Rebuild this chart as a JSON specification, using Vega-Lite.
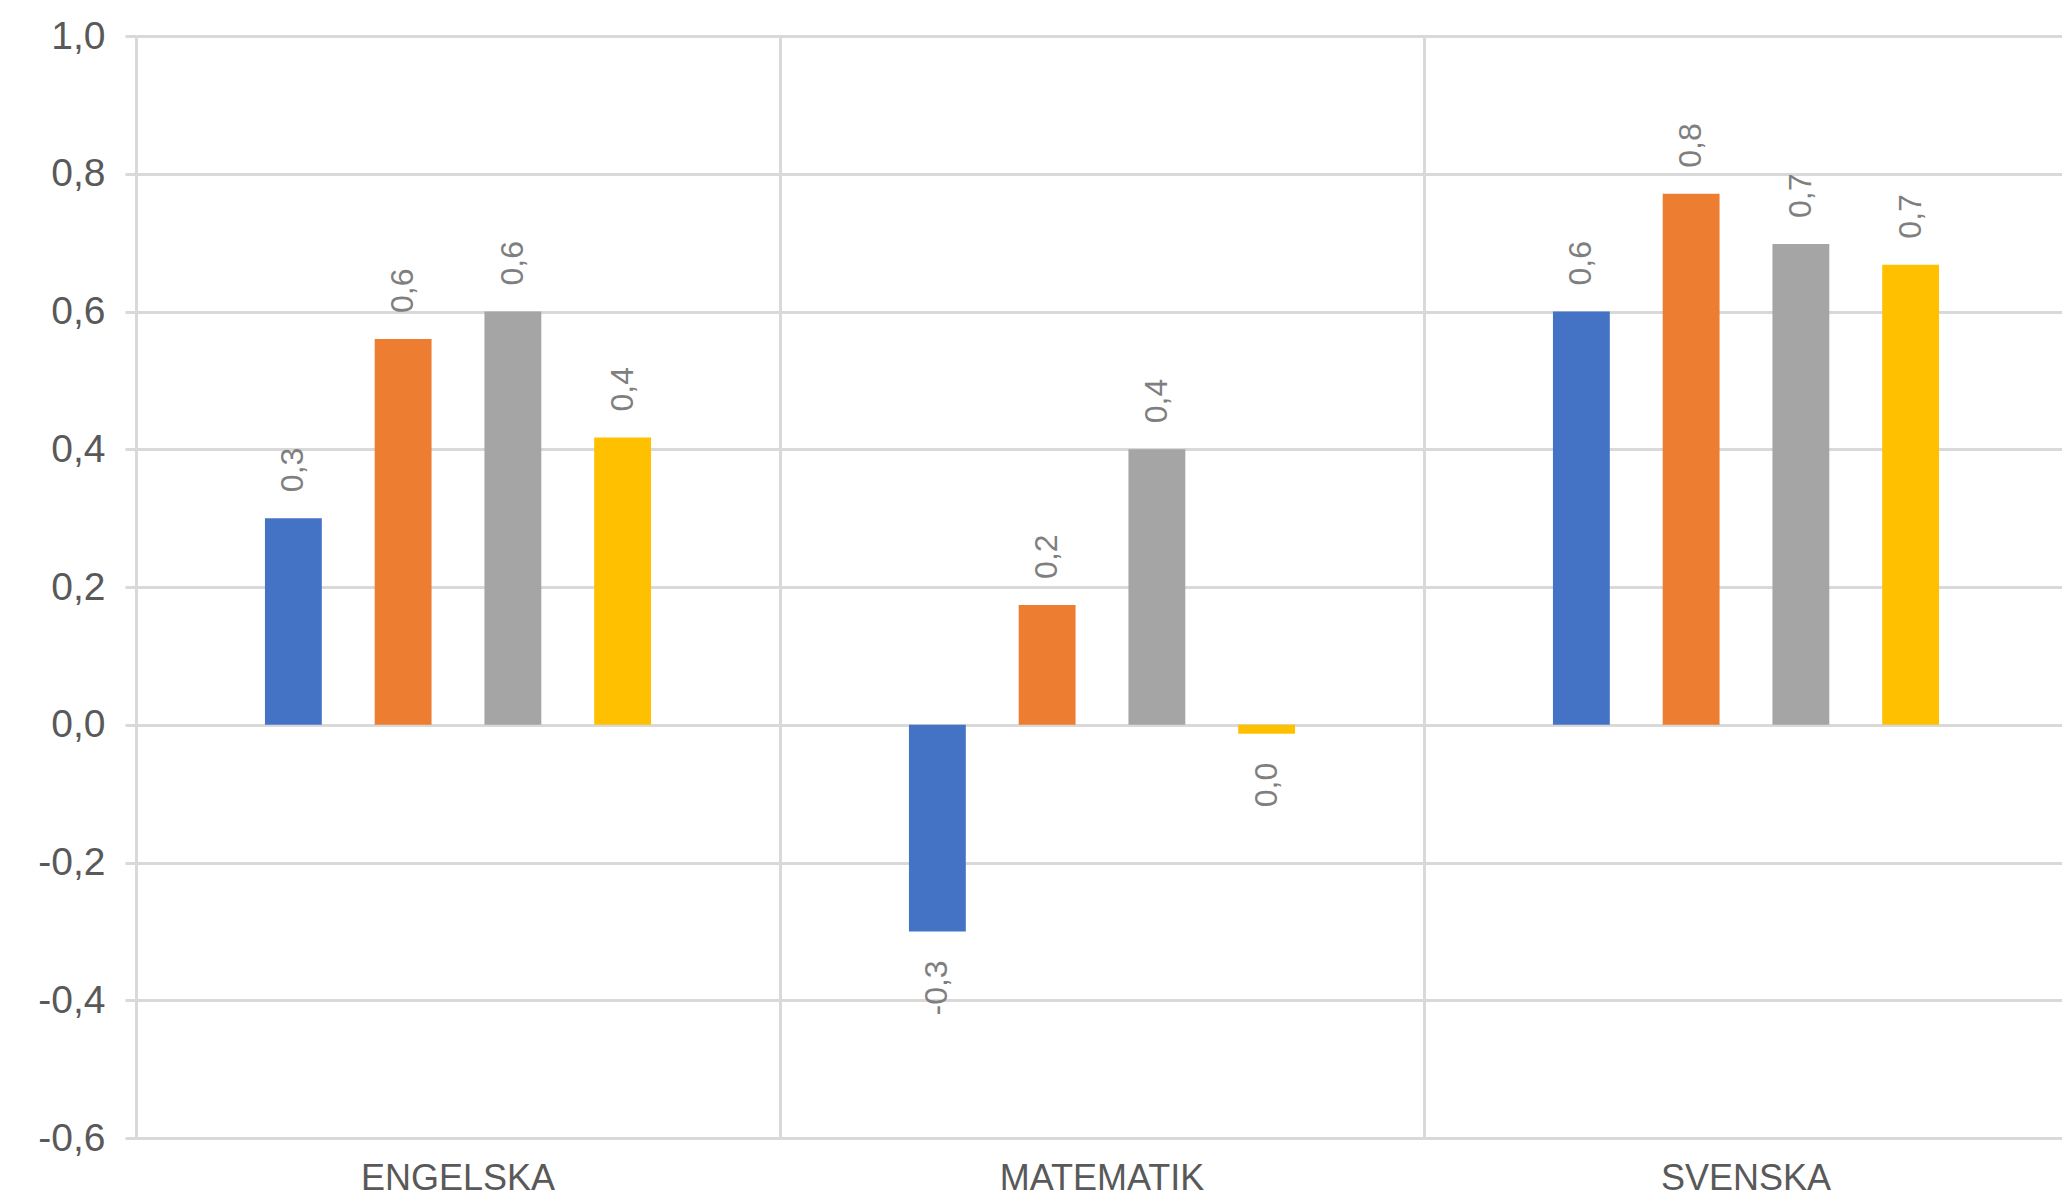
{
  "$schema": "https://vega.github.io/schema/vega-lite/v6.json",
  "width": 1932,
  "height": 1102,
  "autosize": {"type": "none"},
  "padding": {"left": 136, "top": 36, "right": 0, "bottom": 60},
  "background": "white",
  "config": {
    "locale": {"number": {"decimal": ",", "thousands": " ", "grouping": [3], "currency": ["", " kr"], "minus": "-"}},
    "view": {"stroke": null},
    "font": "Liberation Sans"
  },
  "data": {
    "values": [
      {"amne": "ENGELSKA", "serie": "Serie 1", "varde": 0.30},
      {"amne": "ENGELSKA", "serie": "Serie 2", "varde": 0.56},
      {"amne": "ENGELSKA", "serie": "Serie 3", "varde": 0.60},
      {"amne": "ENGELSKA", "serie": "Serie 4", "varde": 0.417},
      {"amne": "MATEMATIK", "serie": "Serie 1", "varde": -0.30},
      {"amne": "MATEMATIK", "serie": "Serie 2", "varde": 0.174},
      {"amne": "MATEMATIK", "serie": "Serie 3", "varde": 0.40},
      {"amne": "MATEMATIK", "serie": "Serie 4", "varde": -0.013},
      {"amne": "SVENSKA", "serie": "Serie 1", "varde": 0.60},
      {"amne": "SVENSKA", "serie": "Serie 2", "varde": 0.771},
      {"amne": "SVENSKA", "serie": "Serie 3", "varde": 0.698},
      {"amne": "SVENSKA", "serie": "Serie 4", "varde": 0.668}
    ]
  },
  "encoding": {
    "x": {
      "field": "amne", "type": "nominal",
      "sort": ["ENGELSKA", "MATEMATIK", "SVENSKA"],
      "scale": {"paddingInner": 0, "paddingOuter": 0},
      "axis": {
        "title": null, "orient": "bottom", "labelAngle": 0, "bandPosition": 0,
        "grid": true, "gridColor": "#d9d9d9", "gridWidth": 3,
        "ticks": false, "domainColor": "#d9d9d9", "domainWidth": 3,
        "labelFontSize": 36, "labelColor": "#595959", "labelPadding": 23, "labelLimit": 0
      }
    },
    "xOffset": {
      "field": "serie", "type": "nominal",
      "scale": {"domain": ["_a", "Serie 1", "Serie 2", "Serie 3", "Serie 4", "_b"], "paddingInner": 0.482, "paddingOuter": 0.175}
    },
    "y": {
      "field": "varde", "type": "quantitative",
      "scale": {"domain": [-0.6, 1.0], "nice": false},
      "axis": {
        "title": null,
        "values": [-0.6, -0.4, -0.2, 0, 0.2, 0.4, 0.6, 0.8, 1.0],
        "format": ".1f",
        "grid": true, "gridColor": "#d9d9d9", "gridWidth": 3,
        "tickColor": "#d9d9d9", "tickWidth": 3, "tickSize": 11,
        "domainColor": "#d9d9d9", "domainWidth": 3,
        "labelFontSize": 39, "labelColor": "#595959", "labelPadding": 20
      }
    }
  },
  "layer": [
    {
      "mark": {"type": "bar"},
      "encoding": {
        "color": {
          "field": "serie", "type": "nominal",
          "scale": {"domain": ["Serie 1", "Serie 2", "Serie 3", "Serie 4"], "range": ["#4472C4", "#ED7D31", "#A5A5A5", "#FFC000"]},
          "legend": null
        }
      }
    },
    {
      "transform": [
        {"filter": "datum.varde >= 0"},
        {"calculate": "replace(format(datum.varde, '.1f'), '.', ',')", "as": "etikett"}
      ],
      "mark": {"type": "text", "angle": 270, "align": "left", "baseline": "middle", "dx": 26, "fontSize": 32, "color": "#7f7f7f"},
      "encoding": {"text": {"field": "etikett", "type": "nominal"}}
    },
    {
      "transform": [
        {"filter": "datum.varde < 0"},
        {"calculate": "replace(format(abs(datum.varde) < 0.05 ? 0 : abs(datum.varde), '.1f'), '.', ',')", "as": "belopp"},
        {"calculate": "(abs(datum.varde) < 0.05 ? '' : '-') + datum.belopp", "as": "etikett"}
      ],
      "mark": {"type": "text", "angle": 270, "align": "right", "baseline": "middle", "dx": -29, "fontSize": 32, "color": "#7f7f7f"},
      "encoding": {"text": {"field": "etikett", "type": "nominal"}}
    }
  ]
}
